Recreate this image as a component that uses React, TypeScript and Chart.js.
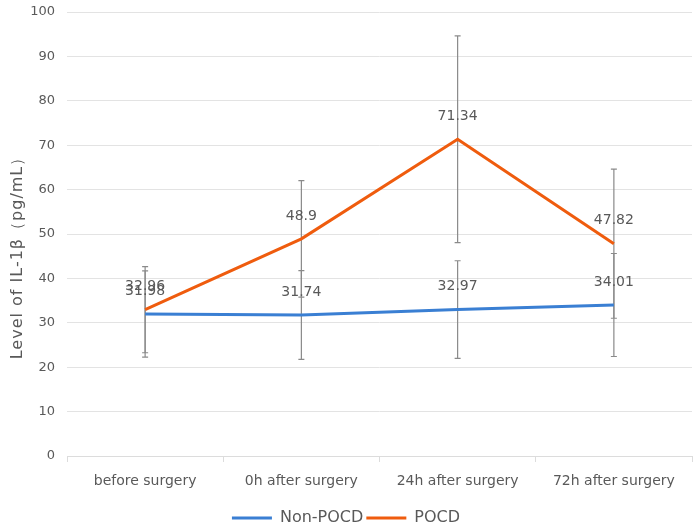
import React, { useEffect, useRef } from "react";
import { Chart, registerables } from "chart.js";

Chart.register(...registerables);

const categories = ["before surgery", "0h after surgery", "24h after surgery", "72h after surgery"];
const nonPocdMean = [31.98, 31.74, 32.97, 34.01];
const nonPocdSd = [9.7, 10.0, 11.0, 11.6];
const pocdMean = [32.96, 48.9, 71.34, 47.82];
const pocdSd = [9.7, 13.1, 23.3, 16.8];
const seriesNames = ["Non-POCD", "POCD"];
const yTitle = "Level of IL-1β（pg/mL）";

const FONT = "'DejaVu Sans', sans-serif";
const TEXT = "#595959";

const errorBarPlugin = {
  id: "errorBars",
  beforeDatasetsDraw(chart: any) {
    const ctx = chart.ctx;
    const y = chart.scales.y;
    const sds = [nonPocdSd, pocdSd];
    ctx.save();
    ctx.strokeStyle = "#8a8a8a";
    ctx.lineWidth = 1.2;
    chart.data.datasets.forEach((ds: any, i: number) => {
      const meta = chart.getDatasetMeta(i);
      meta.data.forEach((pt: any, j: number) => {
        const v = ds.data[j];
        const sd = sds[i][j];
        const x = pt.x;
        const yt = y.getPixelForValue(v + sd);
        const yb = y.getPixelForValue(v - sd);
        ctx.beginPath();
        ctx.moveTo(x, yt);
        ctx.lineTo(x, yb);
        ctx.moveTo(x - 3, yt);
        ctx.lineTo(x + 3, yt);
        ctx.moveTo(x - 3, yb);
        ctx.lineTo(x + 3, yb);
        ctx.stroke();
      });
    });
    ctx.restore();
  },
};

const valueLabelPlugin = {
  id: "valueLabels",
  afterDatasetsDraw(chart: any) {
    const ctx = chart.ctx;
    ctx.save();
    ctx.fillStyle = TEXT;
    ctx.font = `14px ${FONT}`;
    ctx.textAlign = "center";
    ctx.textBaseline = "middle";
    chart.data.datasets.forEach((ds: any, i: number) => {
      const meta = chart.getDatasetMeta(i);
      meta.data.forEach((pt: any, j: number) => {
        ctx.fillText(String(ds.data[j]), pt.x, pt.y - 23);
      });
    });
    ctx.restore();
  },
};

const yTitlePlugin = {
  id: "yTitle",
  afterDraw(chart: any) {
    const ctx = chart.ctx;
    ctx.save();
    ctx.translate(18, 254);
    ctx.rotate(-Math.PI / 2);
    ctx.fillStyle = TEXT;
    ctx.font = `16px ${FONT}`;
    (ctx as any).letterSpacing = "1px";
    ctx.textAlign = "center";
    ctx.textBaseline = "middle";
    ctx.fillText(yTitle, 0, 0);
    ctx.restore();
  },
};

export default function App() {
  const ref = useRef<HTMLCanvasElement | null>(null);

  useEffect(() => {
    if (!ref.current) return;
    const chart = new Chart(ref.current, {
      type: "line",
      data: {
        labels: categories,
        datasets: [
          {
            label: seriesNames[0],
            data: nonPocdMean,
            borderColor: "#3a7fd3",
            backgroundColor: "#3a7fd3",
            borderWidth: 3,
            pointRadius: 0,
            tension: 0,
          },
          {
            label: seriesNames[1],
            data: pocdMean,
            borderColor: "#ef5c0e",
            backgroundColor: "#ef5c0e",
            borderWidth: 3,
            pointRadius: 0,
            tension: 0,
          },
        ],
      },
      options: {
        responsive: false,
        animation: false,
        layout: { padding: { top: 12, right: 7, left: 0, bottom: -7 } },
        plugins: {
          tooltip: { enabled: false },
          legend: {
            position: "bottom",
            labels: {
              usePointStyle: true,
              pointStyle: "line",
              pointStyleWidth: 40,
              padding: 3,
              color: TEXT,
              font: { family: FONT, size: 16 },
            },
          },
        },
        scales: {
          x: {
            offset: true,
            grid: {
              offset: true,
              drawOnChartArea: false,
              drawTicks: true,
              tickLength: 6,
              color: "#dcdcdc",
            },
            border: { display: true, color: "#dcdcdc" },
            ticks: {
              color: TEXT,
              padding: 11,
              font: { family: FONT, size: 14 },
              maxRotation: 0,
              autoSkip: false,
            },
            afterFit(scale: any) {
              scale.height = 51;
            },
          },
          y: {
            min: 0,
            max: 100,
            ticks: {
              stepSize: 10,
              color: TEXT,
              padding: 0,
              font: { family: FONT, size: 13 },
            },
            grid: {
              color: "#e3e3e3",
              drawTicks: true,
              tickLength: 12,
              tickColor: "rgba(0,0,0,0)",
            },
            border: { display: false },
            afterFit(scale: any) {
              scale.width = 67;
            },
          },
        },
      },
      plugins: [errorBarPlugin, valueLabelPlugin, yTitlePlugin],
    });
    return () => chart.destroy();
  }, []);

  return (
    <div style={{ position: "absolute", left: 0, top: 0, width: 699, height: 529 }}>
      <canvas ref={ref} width={699} height={529} style={{ display: "block" }} />
    </div>
  );
}
